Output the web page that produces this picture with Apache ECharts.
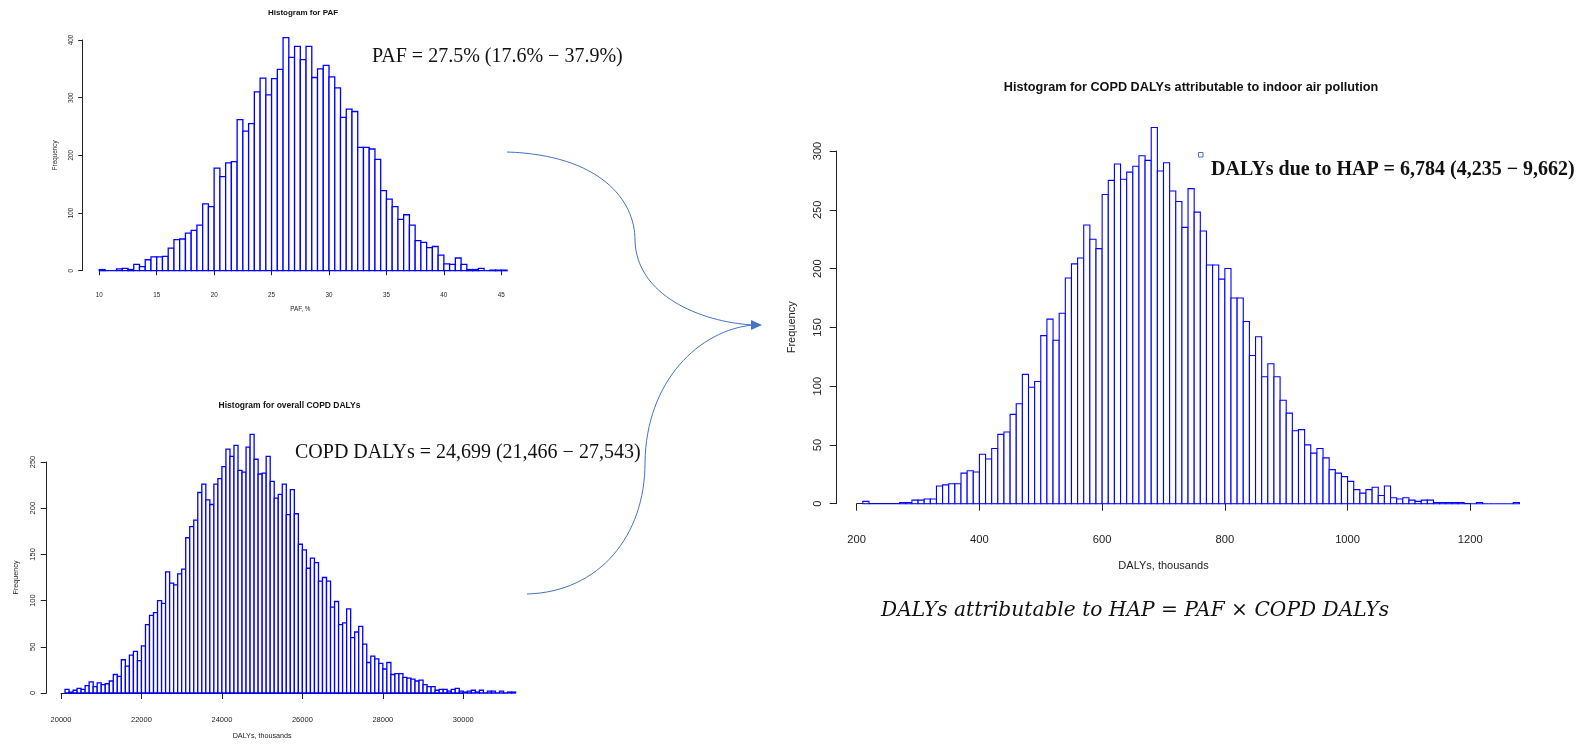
<!DOCTYPE html>
<html>
<head>
<meta charset="utf-8">
<script src="https://cdn.jsdelivr.net/npm/echarts@6/dist/echarts.min.js"></script>
<style>
  html, body { margin: 0; padding: 0; background: #fff; }
  #chart { width: 1576px; height: 746px; }
</style>
</head>
<body>
<div id="chart"></div>
<script>
// PAF simulation histogram: bins of 0.5 percentage points starting at 10
const pafBinStart = 10;
const pafBinWidth = 0.5;
const pafCounts = [
  2, 0, 0, 3, 4, 2, 11, 7, 19, 24,
  24, 25, 39, 54, 55, 65, 70, 79, 116, 111,
  178, 163, 187, 189, 262, 242, 255, 310, 334, 305,
  333, 349, 404, 370, 389, 366, 389, 335, 350, 356,
  336, 317, 266, 280, 276, 214, 214, 211, 193, 139,
  124, 111, 89, 97, 79, 52, 49, 40, 42, 27,
  12, 11, 22, 11, 2, 2, 4, 0, 1, 1, 1
];
const pafTicks = { min: 10, max: 45, step: 5, yMax: 400, yStep: 100 };

// Overall COPD DALYs histogram (thousands): bins of 100 starting at 20100
const copdBinStart = 20100;
const copdBinWidth = 100;
const copdCounts = [
  4, 1, 3, 5, 4, 8, 12, 7, 11, 9,
  10, 13, 20, 18, 36, 29, 41, 45, 35, 51,
  74, 84, 87, 100, 97, 131, 119, 117, 129, 134,
  168, 180, 187, 217, 226, 209, 204, 226, 232, 245,
  264, 256, 268, 241, 239, 266, 280, 253, 237, 238,
  256, 229, 211, 215, 226, 193, 220, 194, 161, 155,
  135, 146, 141, 121, 125, 121, 93, 99, 74, 76,
  91, 60, 66, 72, 53, 33, 40, 37, 32, 26,
  33, 20, 21, 21, 17, 16, 15, 13, 14, 9,
  7, 7, 3, 4, 4, 2, 4, 5, 2, 1,
  2, 3, 1, 3, 0, 2, 2, 0, 2, 0, 1, 1
];
const copdTicks = { min: 20000, max: 30000, step: 2000, yMax: 250, yStep: 50 };

// COPD DALYs attributable to household air pollution: bins of 10 starting at 210
const hapBinStart = 210;
const hapBinWidth = 10;
const hapCounts = [
  2, 0, 0, 0, 0, 0, 1, 1, 3, 3,
  4, 4, 15, 16, 17, 17, 26, 28, 27, 42,
  38, 47, 59, 61, 76, 85, 110, 99, 104, 143,
  157, 139, 162, 192, 204, 209, 237, 225, 217, 263,
  275, 289, 276, 282, 287, 296, 292, 320, 283, 290,
  266, 257, 235, 268, 248, 232, 203, 203, 191, 200,
  175, 175, 155, 126, 142, 108, 119, 108, 88, 77,
  62, 63, 50, 43, 47, 39, 29, 26, 23, 19,
  12, 9, 12, 14, 7, 15, 5, 4, 5, 3,
  2, 3, 3, 1, 1, 1, 1, 1, 0, 0,
  1, 0, 0, 0, 0, 0, 1
];
const hapTicks = { min: 200, max: 1200, step: 200, yMax: 300, yStep: 50 };

const titles = [
  'Histogram for PAF',
  'Histogram for overall COPD DALYs',
  'Histogram for COPD DALYs attributable to indoor air pollution'
];
const xNames = ['PAF, %', 'DALYs, thousands', 'DALYs, thousands'];
const yName = 'Frequency';
const summaries = [
  'PAF = 27.5% (17.6% \u2212 37.9%)',
  'COPD DALYs = 24,699 (21,466 \u2212 27,543)',
  'DALYs due to HAP = 6,784 (4,235 \u2212 9,662)'
];
const formula = 'DALYs attributable to HAP = PAF \u00d7 COPD DALYs';

const SANS = '"Liberation Sans", Arial, Helvetica, sans-serif';
const SERIF = '"Liberation Serif", "Times New Roman", serif';
const MATH = '"DejaVu Serif", serif';
const BAR_BLUE = '#0000ff';
const ARROW_BLUE = '#4472c4';
const AXIS_COLOR = '#222';

// one panel per histogram: plotting region, axis offsets and text sizes
const panels = [
  { grid: { left: 99.3, top: 40, width: 402, height: 230.7 },
    xOffset: 10.3, yOffset: 16.6, tick: 4.5, font: 6.3, nameFont: 6.3,
    xMargin: 11, yMargin: 8.5, xNameGap: 25.5, yNameGap: 24, lw: 1.3,
    ticks: pafTicks, start: pafBinStart, width: pafBinWidth, counts: pafCounts },
  { grid: { left: 61, top: 462, width: 402.3, height: 231 },
    xOffset: 10.3, yOffset: 14.3, tick: 6, font: 7.5, nameFont: 7.2,
    xMargin: 13, yMargin: 10, xNameGap: 29, yNameGap: 27, lw: 1.3,
    ticks: copdTicks, start: copdBinStart, width: copdBinWidth, counts: copdCounts },
  { grid: { left: 856.7, top: 151, width: 613.6, height: 352.7 },
    xOffset: 14.6, yOffset: 20, tick: 7, font: 11.2, nameFont: 11,
    xMargin: 16, yMargin: 13.5, xNameGap: 42, yNameGap: 39, lw: 1.1,
    ticks: hapTicks, start: hapBinStart, width: hapBinWidth, counts: hapCounts }
];

function histogramSeries(p, i) {
  return {
    type: 'custom',
    xAxisIndex: i,
    yAxisIndex: i,
    clip: false,
    silent: true,
    data: p.counts.map((c, k) => [p.start + k * p.width, p.start + (k + 1) * p.width, c]),
    renderItem: function (params, api) {
      const a = api.coord([api.value(0), 0]);
      const b = api.coord([api.value(1), api.value(2)]);
      return {
        type: 'rect',
        shape: { x: a[0], y: b[1], width: b[0] - a[0], height: a[1] - b[1] },
        style: { fill: '#fff', stroke: BAR_BLUE, lineWidth: p.lw }
      };
    }
  };
}

const plain = v => String(v);

const grids = panels.map(p => Object.assign({ containLabel: false }, p.grid));

const xAxes = panels.map((p, i) => ({
  type: 'value', gridIndex: i,
  min: p.ticks.min, max: p.ticks.max, interval: p.ticks.step,
  offset: p.xOffset,
  name: xNames[i], nameLocation: 'middle', nameGap: p.xNameGap,
  nameTextStyle: { fontFamily: SANS, fontSize: p.nameFont, color: '#222' },
  axisLine: { show: true, lineStyle: { color: AXIS_COLOR, width: 1 } },
  axisTick: { show: true, length: p.tick, lineStyle: { color: AXIS_COLOR, width: 1 } },
  axisLabel: { fontFamily: SANS, fontSize: p.font, color: '#222', margin: p.xMargin,
               formatter: plain, showMinLabel: true, showMaxLabel: true, hideOverlap: false },
  splitLine: { show: false }
}));

const yAxes = panels.map((p, i) => ({
  type: 'value', gridIndex: i,
  min: 0, max: p.ticks.yMax, interval: p.ticks.yStep,
  offset: p.yOffset,
  name: yName, nameLocation: 'middle', nameGap: p.yNameGap, nameRotate: 90,
  nameTextStyle: { fontFamily: SANS, fontSize: p.nameFont, color: '#222' },
  axisLine: { show: true, lineStyle: { color: AXIS_COLOR, width: 1 } },
  axisTick: { show: true, length: p.tick, lineStyle: { color: AXIS_COLOR, width: 1 } },
  axisLabel: { fontFamily: SANS, fontSize: p.font, color: '#222', rotate: 90, formatter: plain,
               margin: p.yMargin, showMinLabel: true, showMaxLabel: true, hideOverlap: false },
  splitLine: { show: false }
}));

function label(text, x, y, font, opts) {
  return {
    type: 'text', x: x, y: y, silent: true,
    style: Object.assign({ text: text, font: font, fill: '#111', align: 'left', verticalAlign: 'middle' }, opts || {})
  };
}

const graphics = [
  // panel titles
  label(titles[0], 303, 12.5, 'bold 8px ' + SANS, { align: 'center' }),
  label(titles[1], 289.5, 405.5, 'bold 8.5px ' + SANS, { align: 'center' }),
  label(titles[2], 1191, 87.5, 'bold 12.7px ' + SANS, { align: 'center' }),
  // summary annotations
  label(summaries[0], 372, 57, '20px ' + SERIF),
  label(summaries[1], 295, 453, '20px ' + SERIF),
  label(summaries[2], 1211, 170, 'bold 20px ' + SERIF),
  label(formula, 881, 611, 'italic 20.2px ' + MATH),
  // small marker beside the HAP summary
  { type: 'rect', silent: true, shape: { x: 1198.5, y: 152.5, width: 4.5, height: 4.5 },
    style: { fill: '#fff', stroke: ARROW_BLUE, lineWidth: 1 } },
  // curved connector from the PAF panel
  { type: 'bezierCurve', silent: true,
    shape: { x1: 507, y1: 152, cpx1: 600, cpy1: 155, cpx2: 635, cpy2: 200, x2: 635, y2: 240 },
    style: { stroke: ARROW_BLUE, lineWidth: 1, fill: null } },
  { type: 'bezierCurve', silent: true,
    shape: { x1: 635, y1: 240, cpx1: 636, cpy1: 295, cpx2: 700, cpy2: 322, x2: 753, y2: 325 },
    style: { stroke: ARROW_BLUE, lineWidth: 1, fill: null } },
  // curved connector from the COPD panel
  { type: 'bezierCurve', silent: true,
    shape: { x1: 527, y1: 594, cpx1: 600, cpy1: 592, cpx2: 645, cpy2: 535, x2: 645, y2: 463 },
    style: { stroke: ARROW_BLUE, lineWidth: 1, fill: null } },
  { type: 'bezierCurve', silent: true,
    shape: { x1: 645, y1: 463, cpx1: 646, cpy1: 380, cpx2: 700, cpy2: 330, x2: 753, y2: 325 },
    style: { stroke: ARROW_BLUE, lineWidth: 1, fill: null } },
  // arrow head
  { type: 'polygon', silent: true,
    shape: { points: [[762, 325], [751, 320], [751, 330]] },
    style: { fill: ARROW_BLUE } }
];

const chart = echarts.init(document.getElementById('chart'), null, { renderer: 'canvas' });
chart.setOption({
  animation: false,
  backgroundColor: '#fff',
  grid: grids,
  xAxis: xAxes,
  yAxis: yAxes,
  series: panels.map(histogramSeries),
  graphic: graphics
});
</script>
</body>
</html>
